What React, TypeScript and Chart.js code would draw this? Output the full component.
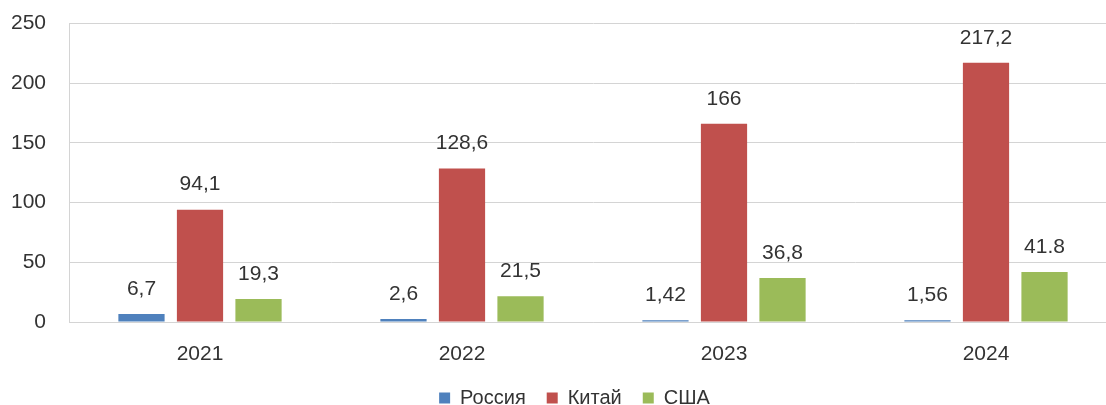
import React, { useEffect, useRef } from "react";
import { Chart, registerables } from "chart.js";

Chart.register(...registerables);

const categories = ["2021", "2022", "2023", "2024"];
const seriesNames = ["Россия", "Китай", "США"];
const russia = [6.7, 2.6, 1.42, 1.56];
const china = [94.1, 128.6, 166, 217.2];
const usa = [19.3, 21.5, 36.8, 41.8];
const russiaLabels = ["6,7", "2,6", "1,42", "1,56"];
const chinaLabels = ["94,1", "128,6", "166", "217,2"];
const usaLabels = ["19,3", "21,5", "36,8", "41.8"];
const colors = ["#4F81BD", "#C0504D", "#9BBB59"];

const FONT = "'Liberation Sans', Arial, sans-serif";
const TEXT = "#333333";
const GRID = "#d4d4d4";

const labelPlugin = {
  id: "valueLabels",
  afterDatasetsDraw(chart: any) {
    const ctx = chart.ctx;
    const all = [russiaLabels, chinaLabels, usaLabels];
    ctx.save();
    ctx.font = `21px ${FONT}`;
    ctx.fillStyle = TEXT;
    ctx.textAlign = "center";
    ctx.textBaseline = "middle";
    chart.data.datasets.forEach((_: any, di: number) => {
      const meta = chart.getDatasetMeta(di);
      meta.data.forEach((el: any, i: number) => {
        ctx.fillText(all[di][i], el.x, el.y - 25);
      });
    });
    ctx.restore();
  },
};

const legendShift = {
  id: "legendShift",
  afterLayout(chart: any) {
    if (chart.legend) {
      chart.legend.left += 16;
      chart.legend.right += 16;
    }
  },
};

export default function App() {
  const ref = useRef<HTMLCanvasElement>(null);
  useEffect(() => {
    if (!ref.current) return;
    const chart = new Chart(ref.current, {
      type: "bar",
      data: {
        labels: categories,
        datasets: [russia, china, usa].map((d, i) => ({
          label: seriesNames[i],
          data: d,
          backgroundColor: colors[i],
          borderWidth: 0,
          categoryPercentage: 0.67,
          barPercentage: 0.79,
        })),
      },
      options: {
        responsive: false,
        animation: false,
        layout: { padding: { top: 1, right: 35, left: 0, bottom: 0 } },
        plugins: {
          tooltip: { enabled: false },
          legend: {
            position: "bottom",
            labels: {
              font: { family: FONT, size: 20 },
              color: TEXT,
              boxWidth: 11,
              boxHeight: 11,
              padding: 21,
            },
          },
        },
        scales: {
          x: {
            afterFit: (s: any) => {
              s.height = 45;
            },
            grid: { display: false, drawTicks: false },
            border: { display: true, color: GRID, width: 1 },
            ticks: { font: { family: FONT, size: 21 }, color: TEXT, padding: 20 },
          },
          y: {
            min: 0,
            max: 250,
            afterFit: (s: any) => {
              s.width = 69;
            },
            ticks: {
              stepSize: 50,
              font: { family: FONT, size: 21 },
              color: TEXT,
              padding: 23,
            },
            grid: { color: GRID, lineWidth: 1, drawTicks: false },
            border: { display: true, color: GRID, width: 1 },
          },
        },
      },
      plugins: [labelPlugin, legendShift],
    });
    return () => chart.destroy();
  }, []);
  return (
    <canvas
      ref={ref}
      width={1152}
      height={430}
      style={{ position: "fixed", left: 0, top: -12, background: "#fff" }}
    />
  );
}
